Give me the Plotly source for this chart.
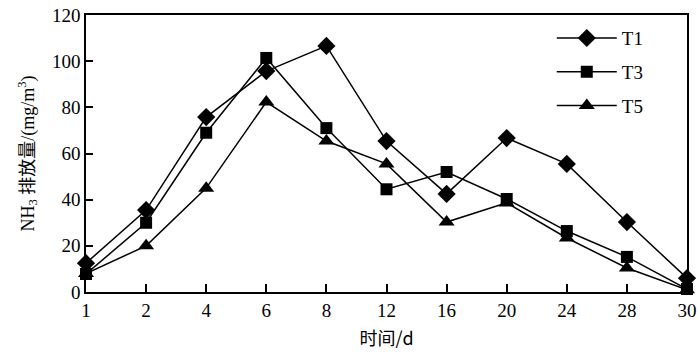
import plotly.graph_objects as go

days = ["1", "2", "4", "6", "8", "12", "16", "20", "24", "28", "30"]
t1 = [12.5, 35.5, 75.8, 95.7, 106.6, 65.4, 42.5, 66.7, 55.5, 30.3, 6.0]
t3 = [7.8, 30.0, 69.0, 101.4, 71.0, 44.5, 52.0, 40.3, 26.4, 15.2, 1.3]
t5 = [8.0, 20.0, 45.0, 82.3, 65.4, 55.5, 30.3, 38.6, 23.4, 10.4, 1.0]
y_ticks = [0, 20, 40, 60, 80, 100, 120]

series = [("T1", t1, "diamond", 14), ("T3", t3, "square", 12), ("T5", t5, "triangle-up", 14)]

fig = go.Figure()
for name, vals, sym, sz in series:
    fig.add_trace(go.Scatter(
        x=list(range(len(days))), y=vals, name=name, mode="lines+markers",
        line=dict(color="black", width=1.5),
        marker=dict(symbol=sym, size=sz, color="black"),
        legendgroup=name,
    ))

serif = "Liberation Serif"
cjk = "Noto Sans CJK SC"
fig.update_layout(
    width=700, height=359,
    margin=dict(l=86, r=13, t=15, b=67, autoexpand=False),
    plot_bgcolor="white", paper_bgcolor="white",
    font=dict(family=serif, size=18, color="black"),
    showlegend=True,
    legend=dict(x=0.775, y=0.985, xanchor="left", yanchor="top",
                bgcolor="rgba(0,0,0,0)", font=dict(size=19, family=serif),
                itemwidth=60, tracegroupgap=6),
    xaxis=dict(
        range=[0, len(days) - 1],
        tickmode="array", tickvals=list(range(len(days))), ticktext=days,
        ticks="inside", ticklen=8, tickwidth=1.5, tickcolor="black",
        showline=True, linecolor="black", linewidth=1.5, mirror=True,
        showgrid=False, zeroline=False, automargin=False,
        ticklabeloverflow="allow",
        tickfont=dict(size=19, family=serif),
        title=dict(text="时间/d", font=dict(size=18, family=cjk), standoff=13),
    ),
    yaxis=dict(
        range=[0, 120], tickvals=y_ticks,
        ticks="inside", ticklen=7, tickwidth=1.5, tickcolor="black",
        showline=True, linecolor="black", linewidth=1.5, mirror=True,
        showgrid=False, zeroline=False, automargin=False,
        ticklabeloverflow="allow",
        tickfont=dict(size=19, family=serif),
        title=dict(text="NH<sub>3</sub> 排放量/(mg/m<sup>3</sup>)",
                   font=dict(size=18, family=serif + ", " + cjk), standoff=13),
    ),
)
fig.update_traces(cliponaxis=False)
fig.write_html("out.html", config={"displayModeBar": False},
               post_script="document.body.style.margin='0';")
